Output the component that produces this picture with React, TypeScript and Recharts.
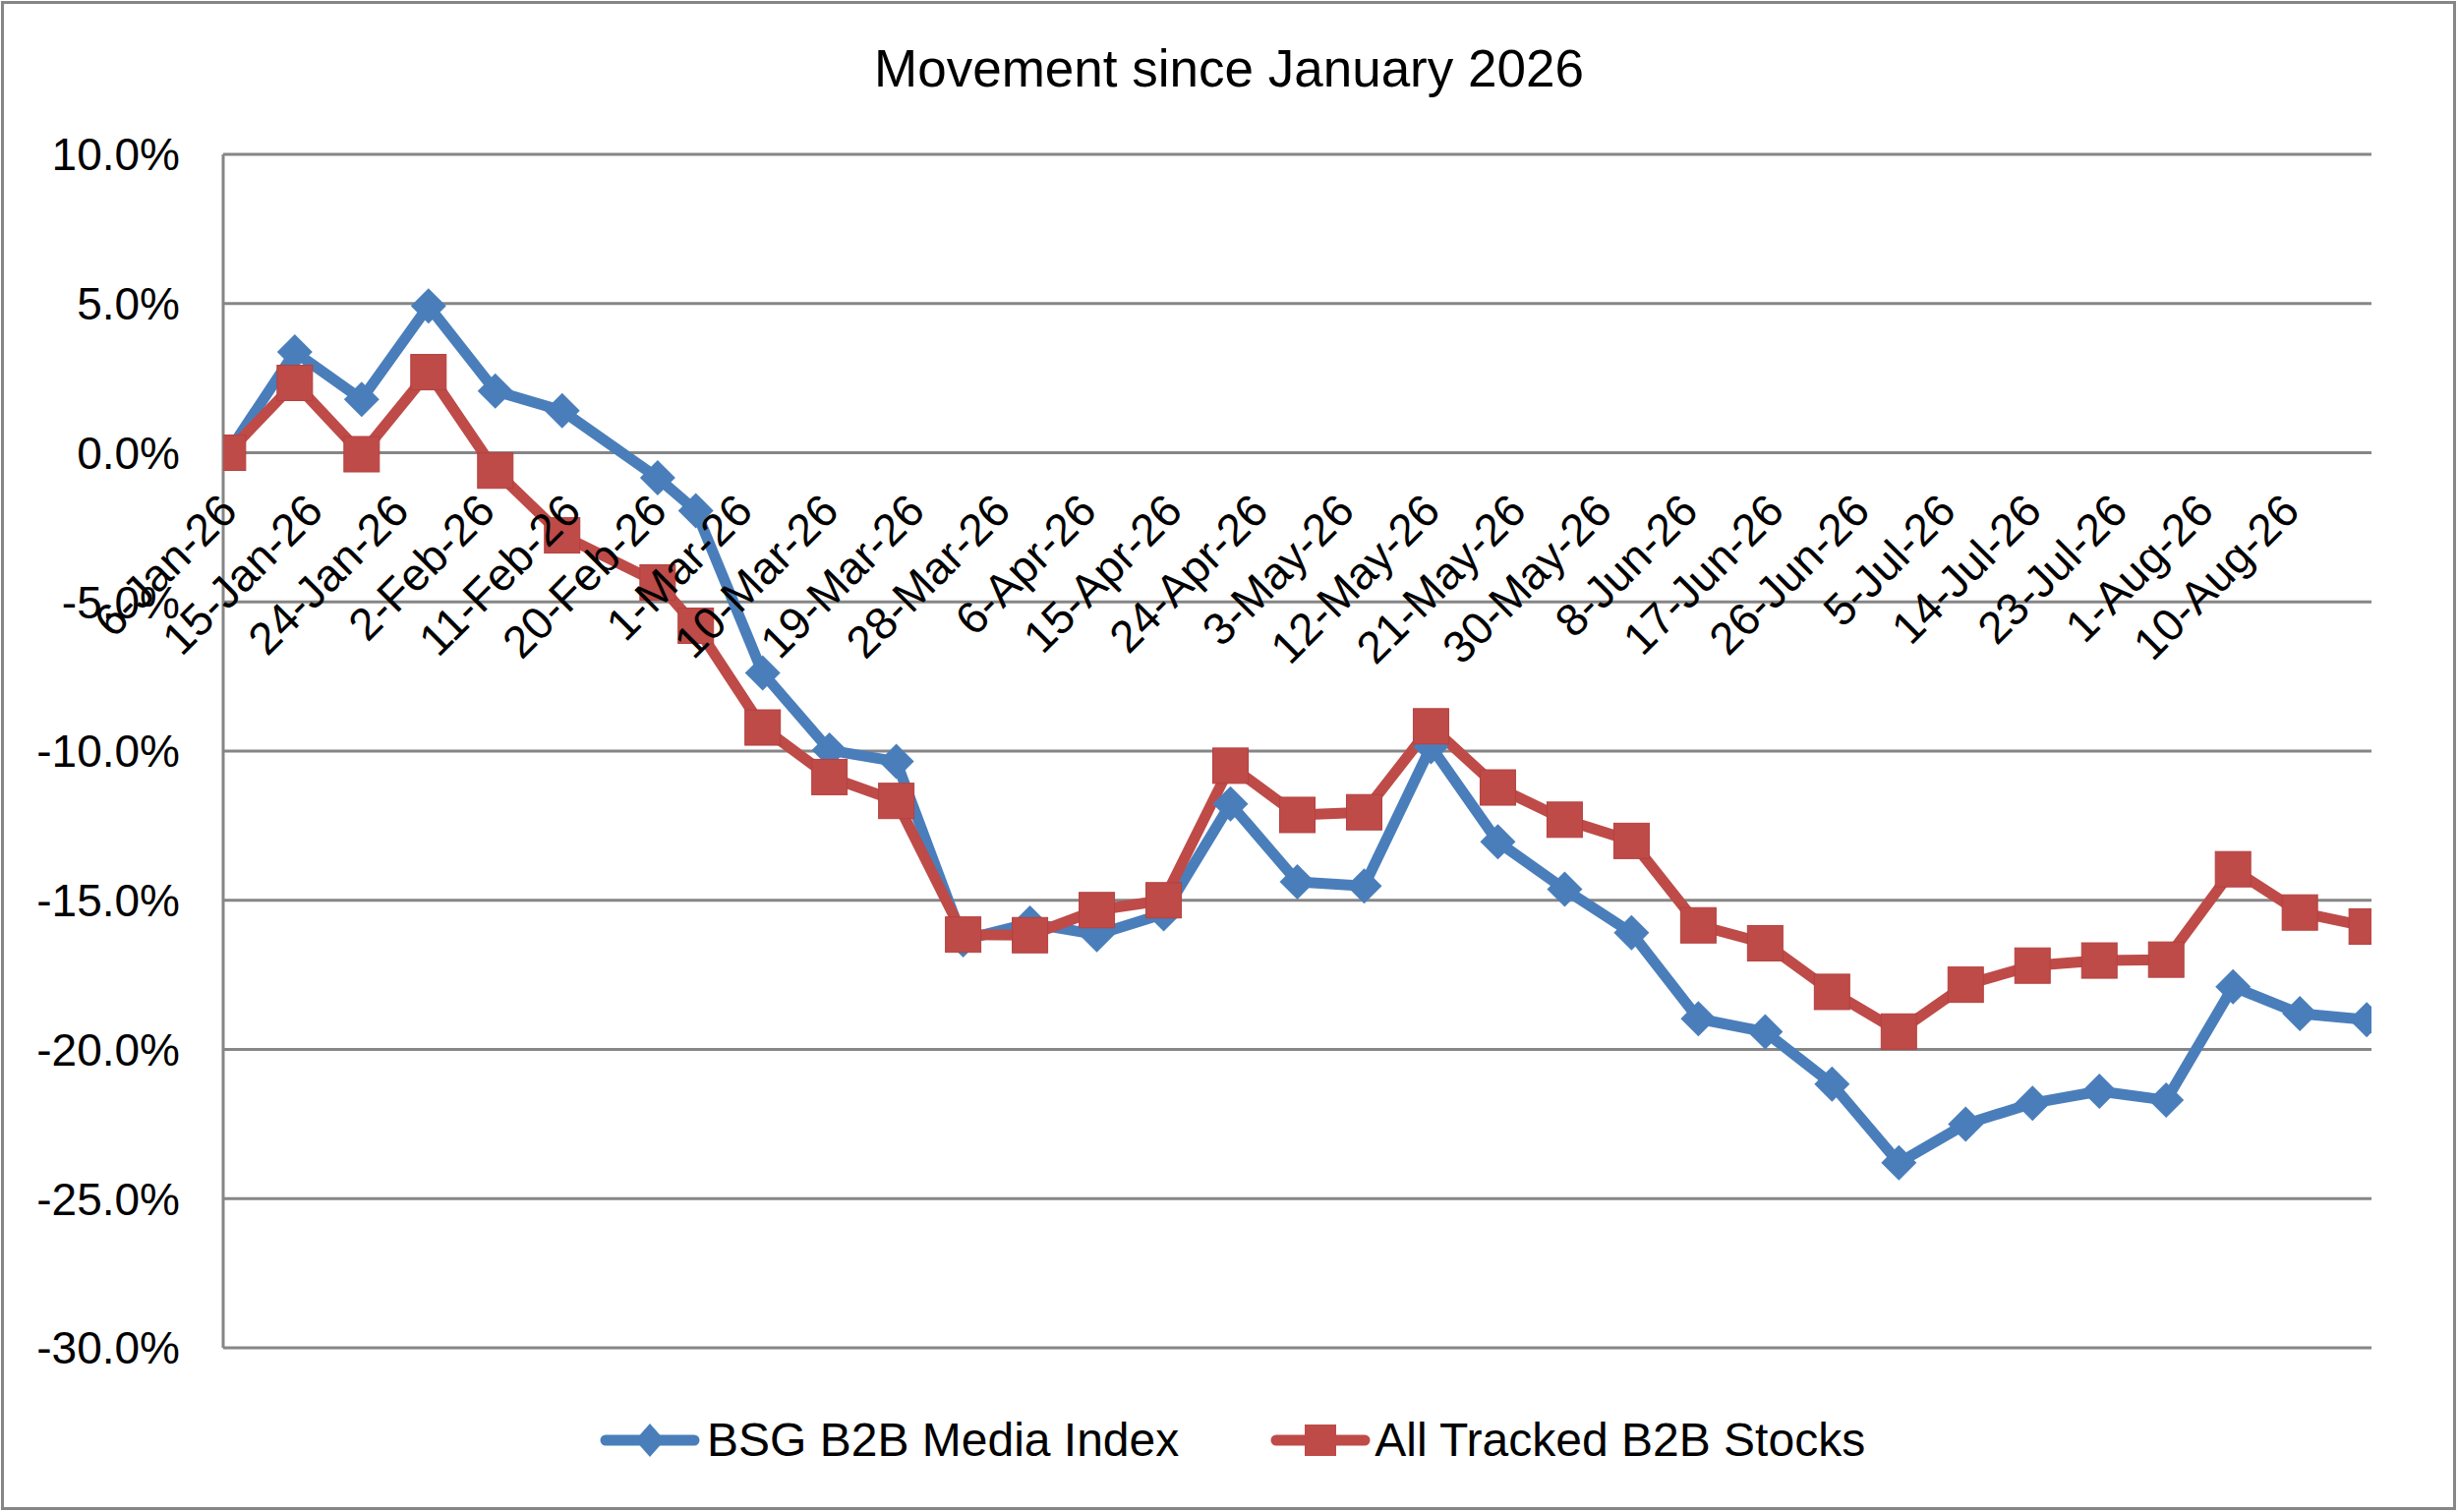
import { CartesianGrid, Legend, Line, LineChart, XAxis, YAxis } from "recharts";

const FONT = '"Liberation Sans", Arial, sans-serif';
const BLUE = "#4A7EBB";
const RED = "#BE4B48";
const GRID = "#868686";

const MONTHS = ["Jan", "Feb", "Mar", "Apr", "May", "Jun", "Jul", "Aug", "Sep", "Oct", "Nov", "Dec"];

// weekly readings (one short week in February)
const DATES = [
  "6-Jan-26", "13-Jan-26", "20-Jan-26", "27-Jan-26", "3-Feb-26", "10-Feb-26", "20-Feb-26", "24-Feb-26",
  "3-Mar-26", "10-Mar-26", "17-Mar-26", "24-Mar-26", "31-Mar-26", "7-Apr-26", "14-Apr-26", "21-Apr-26",
  "28-Apr-26", "5-May-26", "12-May-26", "19-May-26", "26-May-26", "2-Jun-26", "9-Jun-26", "16-Jun-26",
  "23-Jun-26", "30-Jun-26", "7-Jul-26", "14-Jul-26", "21-Jul-26", "28-Jul-26", "4-Aug-26", "11-Aug-26",
  "18-Aug-26",
];

const BSG_INDEX = [
  0, 3.38, 1.79, 4.92, 2.07, 1.41, -0.84, -1.94,
  -7.38, -9.97, -10.35, -16.33, -15.77, -16.15, -15.45, -11.77,
  -14.38, -14.52, -9.85, -13.04, -14.63, -16.09, -18.97, -19.41,
  -21.16, -23.8, -22.5, -21.8, -21.4, -21.7, -17.9, -18.8,
  -19.0,
];

const ALL_TRACKED = [
  0, 2.34, -0.05, 2.7, -0.6, -2.77, -4.35, -5.8,
  -9.21, -10.87, -11.67, -16.15, -16.17, -15.33, -15.0, -10.49,
  -12.14, -12.05, -9.17, -11.22, -12.3, -13.01, -15.84, -16.44,
  -18.07, -19.4, -17.83, -17.19, -17.02, -16.99, -13.96, -15.41,
  -15.88,
];

const TICK_LABELS = [
  "6-Jan-26", "15-Jan-26", "24-Jan-26", "2-Feb-26", "11-Feb-26", "20-Feb-26", "1-Mar-26", "10-Mar-26",
  "19-Mar-26", "28-Mar-26", "6-Apr-26", "15-Apr-26", "24-Apr-26", "3-May-26", "12-May-26", "21-May-26",
  "30-May-26", "8-Jun-26", "17-Jun-26", "26-Jun-26", "5-Jul-26", "14-Jul-26", "23-Jul-26", "1-Aug-26",
  "10-Aug-26",
];

const Y_TICKS = [-30, -25, -20, -15, -10, -5, 0, 5, 10];

const toUtc = (s: string) => {
  const [d, m, y] = s.split("-");
  return Date.UTC(2000 + Number(y), MONTHS.indexOf(m), Number(d));
};
const START = toUtc(DATES[0]);
const toDay = (s: string) => Math.round((toUtc(s) - START) / 86400000);

const rows = DATES.map((d, i) => ({ day: toDay(d), bsg: BSG_INDEX[i], all: ALL_TRACKED[i] }));
const tickDays = TICK_LABELS.map(toDay);
const lastDay = rows[rows.length - 1].day;

// plot box
const W = 2500;
const H = 1538;
const PLOT_TOP = 157;
const PLOT_BOTTOM = 1371;
const Y_MIN = -30;
const Y_MAX = 10;
const ZERO_Y = PLOT_TOP + ((PLOT_BOTTOM - PLOT_TOP) * Y_MAX) / (Y_MAX - Y_MIN);
const LEGEND_H = 60;
const X_AXIS_H = 1;

// the date axis crosses at 0%, so its labels hang off the zero line
function DateTick(props: any) {
  const { x, payload } = props;
  const label = TICK_LABELS[tickDays.indexOf(payload.value)] ?? "";
  const y = ZERO_Y + 50;
  return (
    <text
      x={x}
      y={y}
      dy="0.36em"
      textAnchor="end"
      transform={`rotate(-45 ${x} ${y})`}
      fontSize={46}
      fontFamily={FONT}
      fill="#000"
    >
      {label}
    </text>
  );
}

const diamondDot = (props: any) => {
  const { cx, cy, index } = props;
  if (cx == null || cy == null) return <g key={`bd-${index}`} />;
  const r = 18;
  return <path key={`bd-${index}`} d={`M${cx},${cy - r}L${cx + r},${cy}L${cx},${cy + r}L${cx - r},${cy}Z`} fill={BLUE} />;
};

const squareDot = (props: any) => {
  const { cx, cy, index } = props;
  if (cx == null || cy == null) return <g key={`rs-${index}`} />;
  const s = 36;
  return <rect key={`rs-${index}`} x={cx - s / 2} y={cy - s / 2} width={s} height={s} fill={RED} stroke="#B4413F" strokeWidth={1} />;
};

function LegendIcon({ color, shape }: { color: string; shape: "diamond" | "square" }) {
  return (
    <svg width={102} height={40} style={{ display: "block" }}>
      <line x1={6} y1={20} x2={96} y2={20} stroke={color} strokeWidth={11} strokeLinecap="round" />
      {shape === "diamond" ? (
        <path d="M51,3L66,20L51,37L36,20Z" fill={color} />
      ) : (
        <rect x={35} y={4} width={32} height={32} fill={color} />
      )}
    </svg>
  );
}

function LegendBox() {
  const text = { fontFamily: FONT, fontSize: 48, lineHeight: `${LEGEND_H}px`, color: "#000", whiteSpace: "nowrap" as const };
  return (
    <div style={{ height: LEGEND_H, display: "flex", alignItems: "center", paddingLeft: 610 }}>
      <LegendIcon color={BLUE} shape="diamond" />
      <span style={{ ...text, marginLeft: 7 }}>BSG B2B Media Index</span>
      <span style={{ width: 93 }} />
      <LegendIcon color={RED} shape="square" />
      <span style={{ ...text, marginLeft: 4 }}>All Tracked B2B Stocks</span>
    </div>
  );
}

export default function App() {
  return (
    <div style={{ position: "absolute", left: 0, top: 0, width: W, height: H, background: "#fff" }}>
      <LineChart
        width={W}
        height={H}
        data={rows}
        margin={{ top: PLOT_TOP, right: 88, bottom: H - PLOT_BOTTOM - LEGEND_H - X_AXIS_H, left: 0 }}
      >
        <CartesianGrid vertical={false} stroke={GRID} strokeWidth={3} />
        <XAxis
          type="number"
          dataKey="day"
          domain={[-0.5, lastDay + 0.5]}
          ticks={tickDays}
          interval={0}
          height={X_AXIS_H}
          axisLine={false}
          tickLine={false}
          tickSize={0}
          tickMargin={0}
          tick={DateTick}
          allowDataOverflow
        />
        <YAxis
          domain={[Y_MIN, Y_MAX]}
          ticks={Y_TICKS}
          interval={0}
          width={227}
          tickSize={0}
          tickMargin={44}
          tickLine={false}
          axisLine={{ stroke: GRID, strokeWidth: 3 }}
          tick={{ fontSize: 46, fill: "#000", fontFamily: FONT }}
          tickFormatter={(v: number) => `${v.toFixed(1)}%`}
          allowDataOverflow
        />
        <Legend
          verticalAlign="bottom"
          height={LEGEND_H}
          width={W}
          wrapperStyle={{ left: 0, bottom: 43 }}
          content={() => <LegendBox />}
        />
        <Line
          type="linear"
          dataKey="bsg"
          name="BSG B2B Media Index"
          stroke={BLUE}
          strokeWidth={11}
          strokeLinejoin="round"
          dot={diamondDot}
          activeDot={false}
          isAnimationActive={false}
        />
        <Line
          type="linear"
          dataKey="all"
          name="All Tracked B2B Stocks"
          stroke={RED}
          strokeWidth={11}
          strokeLinejoin="round"
          dot={squareDot}
          activeDot={false}
          isAnimationActive={false}
        />
      </LineChart>
      <div
        style={{
          position: "absolute",
          left: 0,
          top: 43,
          width: W,
          textAlign: "center",
          fontFamily: FONT,
          fontSize: 53,
          lineHeight: "53px",
          color: "#000",
          pointerEvents: "none",
        }}
      >
        Movement since January 2026
      </div>
      <div
        style={{
          position: "absolute",
          left: 1,
          top: 1,
          width: W - 3,
          height: H - 3,
          border: `3px solid ${GRID}`,
          boxSizing: "border-box",
          pointerEvents: "none",
        }}
      />
    </div>
  );
}
